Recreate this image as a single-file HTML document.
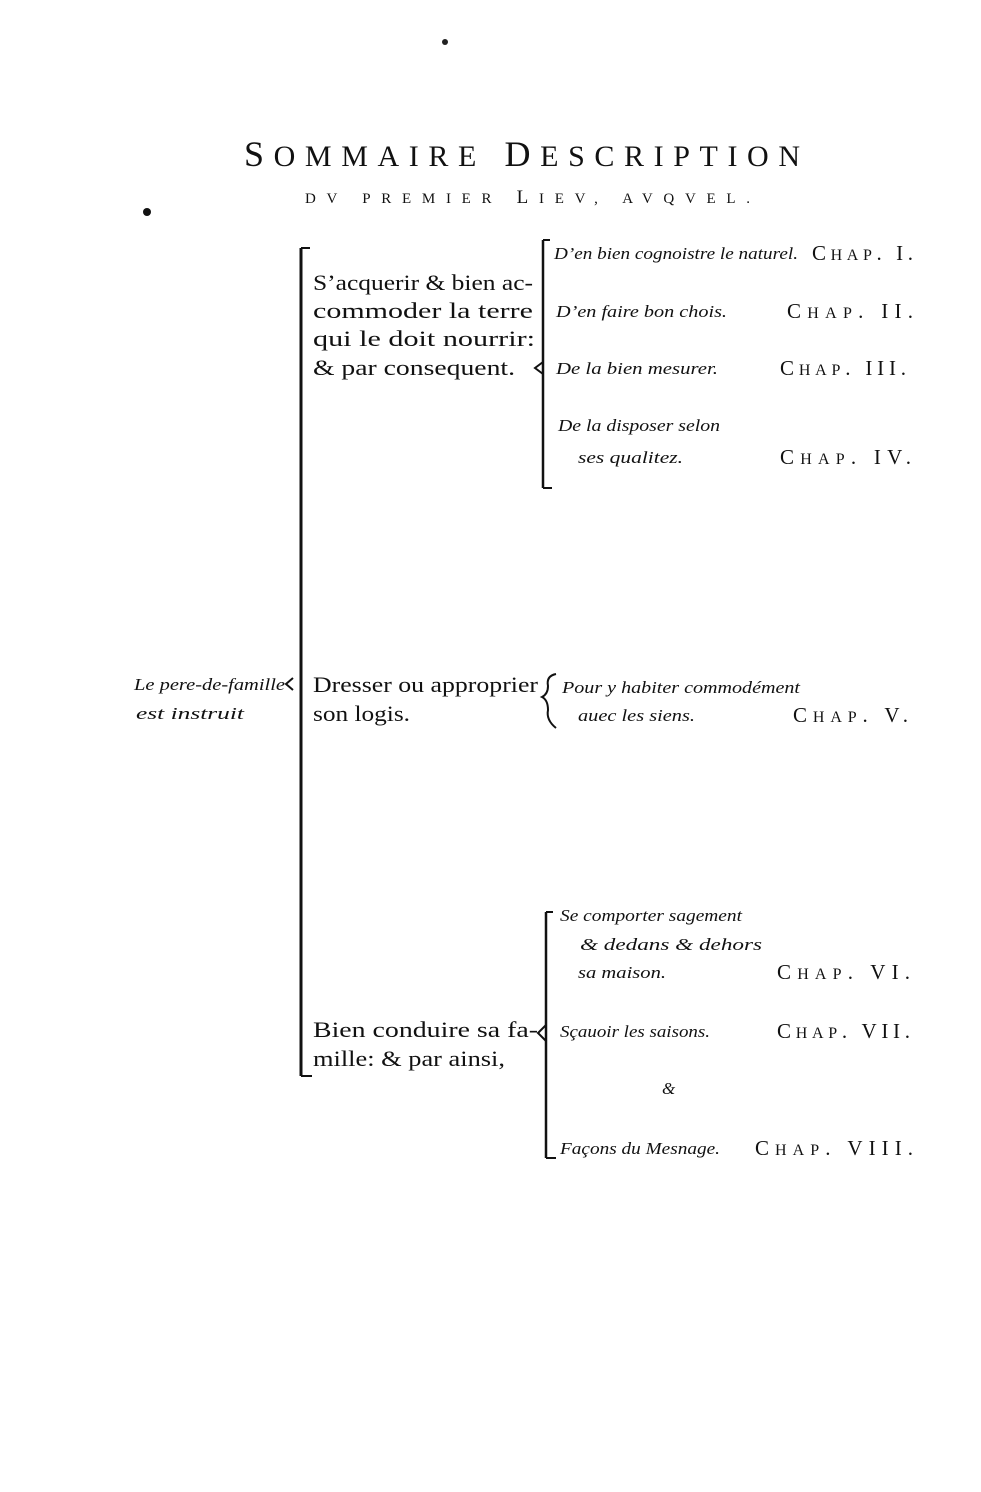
<!DOCTYPE html>
<html><head><meta charset="utf-8"><style>
html,body{margin:0;padding:0;background:#fff}
svg{display:block}
text{font-family:"Liberation Serif",serif;fill:#111}
.r{font-size:22px}
.i{font-size:17px;font-style:italic}
.c{font-size:21px;letter-spacing:2px}
</style></head><body>
<svg width="981" height="1492" viewBox="0 0 981 1492" xmlns="http://www.w3.org/2000/svg">
<circle cx="445" cy="42" r="3" fill="#222"/>
<circle cx="147" cy="212" r="4" fill="#111"/>
<text x="244" y="166" font-size="36" textLength="556" lengthAdjust="spacing">S<tspan font-size="30">OMMAIRE</tspan> <tspan font-size="36">D</tspan><tspan font-size="30">ESCRIPTION</tspan></text>
<text x="305" y="203" font-size="15" textLength="445" lengthAdjust="spacing">DV PREMIER <tspan font-size="19">L</tspan>IEV, AVQVEL.</text>

<text class="i" x="134" y="690" textLength="151" lengthAdjust="spacingAndGlyphs">Le pere-de-famille</text>
<text class="i" x="136" y="719" textLength="108" lengthAdjust="spacingAndGlyphs">est instruit</text>
<path d="M293 678 L286 684 L293 690" fill="none" stroke="#111" stroke-width="2"/>
<line x1="301" y1="248" x2="301" y2="1076" stroke="#111" stroke-width="3"/>
<line x1="301" y1="248" x2="310" y2="248" stroke="#111" stroke-width="2"/>
<line x1="301" y1="1076" x2="312" y2="1076" stroke="#111" stroke-width="2"/>

<text class="r" x="313" y="290" textLength="220" lengthAdjust="spacingAndGlyphs">S’acquerir &amp; bien ac-</text>
<text class="r" x="313" y="318" textLength="220" lengthAdjust="spacingAndGlyphs">commoder la terre</text>
<text class="r" x="313" y="346" textLength="222" lengthAdjust="spacingAndGlyphs">qui le doit nourrir:</text>
<text class="r" x="313" y="375" textLength="202" lengthAdjust="spacingAndGlyphs">&amp; par consequent.</text>
<line x1="543" y1="240" x2="543" y2="488" stroke="#111" stroke-width="2.5"/>
<path d="M543 362 L535 368 L543 374" fill="none" stroke="#111" stroke-width="2"/>
<line x1="543" y1="240" x2="550" y2="240" stroke="#111" stroke-width="2"/>
<line x1="543" y1="488" x2="552" y2="488" stroke="#111" stroke-width="2"/>

<text class="i" x="554" y="259" textLength="244" lengthAdjust="spacingAndGlyphs">D’en bien cognoistre le naturel.</text>
<text class="c" x="812" y="260" textLength="103" lengthAdjust="spacing">C<tspan font-size="16">HAP</tspan>. I.</text>
<text class="i" x="556" y="317" textLength="171" lengthAdjust="spacingAndGlyphs">D’en faire bon chois.</text>
<text class="c" x="787" y="318" textLength="128" lengthAdjust="spacing">C<tspan font-size="16">HAP</tspan>. II.</text>
<text class="i" x="556" y="374" textLength="162" lengthAdjust="spacingAndGlyphs">De la bien mesurer.</text>
<text class="c" x="780" y="375" textLength="128" lengthAdjust="spacing">C<tspan font-size="16">HAP</tspan>. III.</text>
<text class="i" x="558" y="431" textLength="162" lengthAdjust="spacingAndGlyphs">De la disposer selon</text>
<text class="i" x="578" y="463" textLength="105" lengthAdjust="spacingAndGlyphs">ses qualitez.</text>
<text class="c" x="780" y="464" textLength="133" lengthAdjust="spacing">C<tspan font-size="16">HAP</tspan>. IV.</text>

<text class="r" x="313" y="692" textLength="225" lengthAdjust="spacingAndGlyphs">Dresser ou approprier</text>
<text class="r" x="313" y="721" textLength="97" lengthAdjust="spacingAndGlyphs">son logis.</text>
<path d="M556 674 Q546 676 548 686 Q548 694 542 697 Q548 700 548 710 Q546 720 556 728" fill="none" stroke="#111" stroke-width="2"/>
<text class="i" x="562" y="693" textLength="238" lengthAdjust="spacingAndGlyphs">Pour y habiter commodément</text>
<text class="i" x="578" y="721" textLength="117" lengthAdjust="spacingAndGlyphs">auec les siens.</text>
<text class="c" x="793" y="722" textLength="117" lengthAdjust="spacing">C<tspan font-size="16">HAP</tspan>. V.</text>

<text class="r" x="313" y="1037" textLength="225" lengthAdjust="spacingAndGlyphs">Bien conduire sa fa-</text>
<text class="r" x="313" y="1066" textLength="192" lengthAdjust="spacingAndGlyphs">mille: &amp; par ainsi,</text>
<line x1="546" y1="912" x2="546" y2="1158" stroke="#111" stroke-width="2.5"/>
<path d="M546 1025 L538 1033 L546 1041" fill="none" stroke="#111" stroke-width="2"/>
<line x1="546" y1="912" x2="553" y2="912" stroke="#111" stroke-width="2"/>
<line x1="546" y1="1158" x2="556" y2="1158" stroke="#111" stroke-width="2"/>
<text class="i" x="560" y="921" textLength="182" lengthAdjust="spacingAndGlyphs">Se comporter sagement</text>
<text class="i" x="580" y="950" textLength="182" lengthAdjust="spacingAndGlyphs">&amp; dedans &amp; dehors</text>
<text class="i" x="578" y="978" textLength="88" lengthAdjust="spacingAndGlyphs">sa maison.</text>
<text class="c" x="777" y="979" textLength="135" lengthAdjust="spacing">C<tspan font-size="16">HAP</tspan>. VI.</text>
<text class="i" x="560" y="1037" textLength="150" lengthAdjust="spacingAndGlyphs">Sçauoir les saisons.</text>
<text class="c" x="777" y="1038" textLength="135" lengthAdjust="spacing">C<tspan font-size="16">HAP</tspan>. VII.</text>
<text class="i" x="662" y="1094" font-size="19">&amp;</text>
<text class="i" x="560" y="1154" textLength="160" lengthAdjust="spacingAndGlyphs">Façons du Mesnage.</text>
<text class="c" x="755" y="1155" textLength="160" lengthAdjust="spacing">C<tspan font-size="16">HAP</tspan>. VIII.</text>
</svg>
</body></html>
